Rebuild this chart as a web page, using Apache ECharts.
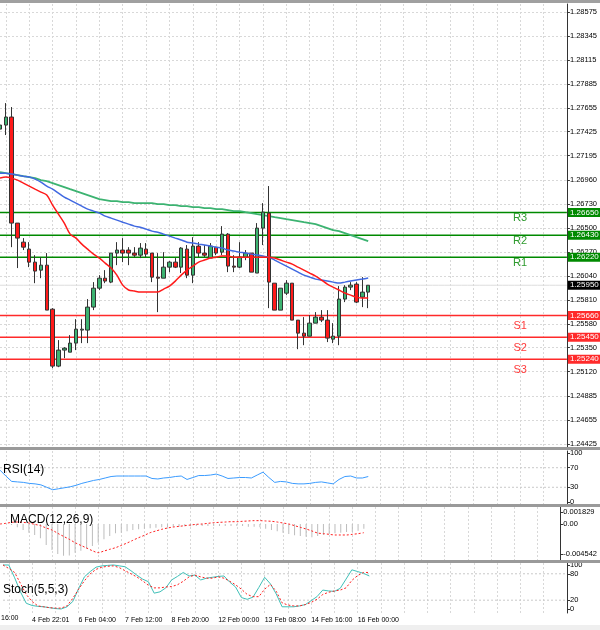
<!DOCTYPE html>
<html><head><meta charset="utf-8">
<script src="https://cdn.jsdelivr.net/npm/echarts@6/dist/echarts.min.js"></script>
<style>html,body{margin:0;padding:0;background:#fff}#c{width:600px;height:630px}</style>
</head><body><div id="c"></div>
<script>
const opens=[1.27450,1.27489,1.27566,1.26547,1.26364,1.26297,1.26172,1.26095,1.26143,1.25720,1.25173,1.25327,1.25307,1.25394,1.25519,1.25519,1.25740,1.25922,1.26018,1.25980,1.26259,1.26288,1.26288,1.26259,1.26239,1.26297,1.26259,1.26028,1.26018,1.26124,1.26172,1.26124,1.26297,1.26047,1.26326,1.26259,1.26211,1.26316,1.26268,1.26441,1.26134,1.26124,1.26220,1.26259,1.26067,1.26499,1.26643,1.25970,1.25711,1.25874,1.25970,1.25615,1.25490,1.25461,1.25586,1.25644,1.25615,1.25432,1.25461,1.25817,1.25932,1.25961,1.25836,1.25884];
const closes=[1.27489,1.27566,1.26547,1.26403,1.26316,1.26172,1.26086,1.26143,1.25711,1.25173,1.25327,1.25346,1.25394,1.25528,1.25528,1.25740,1.25922,1.26018,1.25990,1.26259,1.26288,1.26259,1.26259,1.26239,1.26307,1.26249,1.26028,1.26018,1.26124,1.26172,1.26124,1.26307,1.26047,1.26326,1.26259,1.26239,1.26326,1.26259,1.26441,1.26134,1.26124,1.26220,1.26259,1.26076,1.26499,1.26653,1.25980,1.25711,1.25922,1.25970,1.25615,1.25490,1.25461,1.25586,1.25644,1.25615,1.25442,1.25461,1.25817,1.25932,1.25951,1.25788,1.25884,1.25950];
const lows=[1.27431,1.27393,1.26316,1.26115,1.26288,1.26124,1.25970,1.26018,1.25711,1.25154,1.25163,1.25250,1.25307,1.25327,1.25394,1.25394,1.25711,1.25903,1.25970,1.25970,1.26143,1.26172,1.26143,1.26220,1.26211,1.26220,1.25980,1.25692,1.26018,1.26076,1.26115,1.26067,1.26018,1.25970,1.26220,1.26220,1.26211,1.26239,1.26239,1.26076,1.26076,1.26115,1.26191,1.26076,1.26067,1.26336,1.25730,1.25711,1.25711,1.25855,1.25615,1.25336,1.25374,1.25461,1.25586,1.25596,1.25404,1.25394,1.25374,1.25788,1.25903,1.25778,1.25740,1.25730];
const highs=[1.27518,1.27700,1.27662,1.26547,1.26403,1.26364,1.26239,1.26220,1.26259,1.25730,1.25423,1.25355,1.25471,1.25624,1.25624,1.25817,1.25980,1.26047,1.26095,1.26259,1.26364,1.26403,1.26316,1.26316,1.26355,1.26355,1.26259,1.26259,1.26268,1.26182,1.26211,1.26316,1.26336,1.26412,1.26364,1.26336,1.26355,1.26316,1.26518,1.26451,1.26239,1.26364,1.26288,1.26259,1.26547,1.26739,1.26903,1.25970,1.25922,1.25999,1.25970,1.25615,1.25644,1.25663,1.25692,1.25711,1.25711,1.25586,1.25942,1.25951,1.25980,1.25980,1.26028,1.25951];
const maFast=[1.26979,1.26989,1.26979,1.26960,1.26931,1.26902,1.26873,1.26845,1.26816,1.26720,1.26633,1.26547,1.26441,1.26403,1.26345,1.26297,1.26249,1.26211,1.26163,1.26115,1.26047,1.25951,1.25904,1.25894,1.25884,1.25884,1.25884,1.25884,1.25913,1.25942,1.25990,1.26047,1.26096,1.26134,1.26172,1.26192,1.26211,1.26220,1.26230,1.26230,1.26220,1.26220,1.26220,1.26220,1.26220,1.26220,1.26220,1.26211,1.26192,1.26172,1.26153,1.26124,1.26096,1.26067,1.26038,1.26000,1.25961,1.25932,1.25904,1.25875,1.25855,1.25836,1.25827,1.25827];
const maMid=[1.27027,1.27027,1.27018,1.27008,1.26998,1.26989,1.26970,1.26941,1.26902,1.26873,1.26835,1.26797,1.26768,1.26739,1.26710,1.26681,1.26662,1.26643,1.26614,1.26595,1.26576,1.26556,1.26537,1.26518,1.26508,1.26489,1.26470,1.26460,1.26441,1.26422,1.26403,1.26384,1.26364,1.26355,1.26345,1.26336,1.26326,1.26316,1.26307,1.26288,1.26278,1.26268,1.26259,1.26249,1.26240,1.26230,1.26220,1.26192,1.26163,1.26134,1.26105,1.26076,1.26047,1.26028,1.26009,1.26000,1.25990,1.25980,1.25971,1.25980,1.25990,1.26000,1.26009,1.26019];
const maSlow=[1.27037,1.27027,1.27018,1.27008,1.26998,1.26989,1.26979,1.26960,1.26950,1.26931,1.26912,1.26893,1.26873,1.26854,1.26835,1.26816,1.26797,1.26777,1.26768,1.26758,1.26758,1.26748,1.26748,1.26739,1.26739,1.26739,1.26739,1.26729,1.26729,1.26720,1.26720,1.26710,1.26710,1.26700,1.26700,1.26691,1.26691,1.26681,1.26681,1.26672,1.26662,1.26662,1.26652,1.26643,1.26633,1.26624,1.26614,1.26604,1.26595,1.26585,1.26576,1.26566,1.26556,1.26547,1.26537,1.26518,1.26499,1.26480,1.26470,1.26451,1.26432,1.26412,1.26393,1.26374];
const rsi=[65,53,42,41,40,38,37,35,30,25,27,29,31,34,38,41,44,46,49,52,53,53,53,53,53,53,48,47,49,50,52,53,46,50,54,54,55,57,53,48,49,50,50,49,55,61,50,40,42,41,38,37,37,38,40,41,39,37,46,52,53,49,49,52];
const macdHist=[0,0,-15,-51,-91,-132,-167,-218,-319,-395,-456,-482,-477,-436,-406,-375,-335,-284,-233,-183,-142,-132,-112,-91,-81,-71,-66,-56,-51,-46,-41,-41,-36,-36,-30,-30,-30,-30,-30,-30,-30,-30,-30,-41,-41,-51,-71,-91,-112,-132,-152,-172,-183,-193,-203,-183,-167,-152,-142,-132,-122,-117,-101,-71].map(v=>v/1e5);
const macdSignal=[0,10,25,30,25,15,-5,-25,-61,-91,-142,-188,-233,-284,-325,-365,-406,-436,-411,-385,-360,-325,-289,-248,-208,-172,-132,-106,-81,-61,-46,-36,-25,-15,-5,0,10,20,25,30,35,35,41,46,51,51,46,41,30,15,0,-25,-51,-76,-106,-137,-147,-157,-167,-167,-167,-157,-147,-132].map(v=>v/1e5);
const stochK=[100,100,71,39,13,8,6,5,3,1,0,5,17,46,73,85,95,98,99,100,98,96,87,77,68,62,36,39,48,66,74,83,75,77,66,70,72,74,75,61,50,26,22,27,49,72,57,34,5,5,5,7,10,19,28,43,41,40,47,68,89,85,81,75];
const stochD=[100,92,83,58,33,17,7,5,3,2,2,7,24,45,64,80,90,95,97,98,94,87,80,73,64,54,48,48,50,51,55,63,73,77,73,70,70,73,70,63,55,45,33,28,28,45,56,40,14,9,7,7,10,15,22,33,38,41,43,48,65,76,83,83];
const levelNames=['R3','R2','R1','S1','S2','S3'];
const levelValues=[1.26650,1.26430,1.26220,1.25660,1.25450,1.25240];
const lastPrice=1.25950;
const priceTicks=[1.28575,1.28345,1.28115,1.27885,1.27655,1.27425,1.27195,1.26960,1.26730,1.26500,1.26270,1.26040,1.25810,1.25580,1.25350,1.25120,1.24885,1.24655,1.24425];
const rsiTicks=[0,30,70,100];
const rsiLevels=[30,70];
const macdTicks=[-0.004542,0,0.001829];
const stochTicks=[0,20,80,100];
const stochLevels=[20,80];
const dateTickIdx=[5,13,21,29,37,45,53,61];
const dateLabels=['4 Feb 22:01','6 Feb 04:00','7 Feb 12:00','8 Feb 20:00','12 Feb 00:00','13 Feb 08:00','14 Feb 16:00','16 Feb 00:00'];
const NCAT=98;
const cats=Array.from({length:NCAT},(_,i)=>'c'+i);
const flat=v=>Array(NCAT).fill(v);

const GREEN='#008a00', RED='#ff2a2a';
const gridLine={show:true,interval:(i)=>(i-1)%4===0,lineStyle:{color:'#d8d8d8',type:[2,2],width:1}};
function xAx(gi,showLabel){return {type:'category',gridIndex:gi,data:cats,boundaryGap:false,
  axisLine:{show:false},axisTick:{show:false},splitLine:gridLine,
  axisLabel:{show:showLabel,interval:0,align:'left',margin:4,fontSize:7,color:'#000',fontFamily:'Liberation Sans',
    formatter:(v,i)=>{const k=dateTickIdx.indexOf(i);return k>=0?dateLabels[k]:'';}}};}
function yAx(gi,min,max,ticks,fmt,split){return {type:'value',gridIndex:gi,position:'right',min,max,scale:true,
  axisLine:{show:true,lineStyle:{color:'#333'}},
  axisTick:{show:true,customValues:ticks,length:3,lineStyle:{color:'#333'}},
  axisLabel:{customValues:ticks,fontSize:7.5,color:'#000',margin:3,fontFamily:'Liberation Sans',formatter:fmt},
  splitLine:{show:split,lineStyle:{color:'#d8d8d8',type:[2,2]}}};}

const tag=(c,t)=>({show:true,distance:1,formatter:t,backgroundColor:c,color:'#fff',padding:[1,2,0,2],fontSize:8,fontFamily:'Liberation Sans'});
const levelSeries=levelValues.map((v,i)=>{const c=i<3?GREEN:RED;const tc=i<3?'#2e9a2e':'#ff3b3b';return {type:'line',xAxisIndex:0,yAxisIndex:0,data:flat(v),symbol:'none',z:2,silent:true,
  lineStyle:{color:c,width:1.5},endLabel:tag(c,v.toFixed(5)),
  markPoint:{data:[{coord:[89,v],symbol:'circle',symbolSize:1,itemStyle:{color:'transparent'},
   label:{show:true,position:'inside',formatter:levelNames[i],color:tc,fontSize:11,fontFamily:'Liberation Sans',offset:[0,i<3?6:11]}}]}};});
const lastSeries={type:'line',xAxisIndex:0,yAxisIndex:0,data:flat(lastPrice),symbol:'none',z:1,silent:true,lineStyle:{color:'#dddddd',width:1},endLabel:tag('#000',lastPrice.toFixed(5))};
const dashLevels=(xi,vals)=>vals.map(v=>({type:'line',xAxisIndex:xi,yAxisIndex:xi,data:flat(v),symbol:'none',silent:true,z:1,lineStyle:{color:'#c8c8c8',type:[2,2],width:1}}));

const paneText=(t,x,y)=>({type:'text',left:x,top:y,style:{text:t,fontSize:12,fill:'#000',fontFamily:'Liberation Sans'},z:10});
const sep=(y)=>({type:'rect',shape:{x:0,y:y,width:600,height:3},style:{fill:'#9a9a9a'},z:5});

const opt={animation:false,backgroundColor:'#fff',
grid:[{left:-1,right:33,top:4,height:443},{left:-1,right:33,top:451,height:53},{left:-1,right:33,top:507,height:53},{left:-1,right:33,top:563,height:50}],
xAxis:[xAx(0,false),xAx(1,false),xAx(2,false),xAx(3,true)],
yAxis:[yAx(0,1.24396,1.28652,priceTicks,v=>v.toFixed(5),true),
  yAx(1,-4.1,104.1,rsiTicks,v=>String(v),false),
  yAx(2,-0.005472,0.002584,macdTicks,v=>v===0?'0.00':String(v),false),
  yAx(3,-9.1,104.5,stochTicks,v=>String(v),false)],
series:[
 lastSeries,...levelSeries,
 {type:'line',xAxisIndex:0,yAxisIndex:0,data:maSlow,symbol:'none',z:2,lineStyle:{color:'#3cb371',width:1.8}},
 {type:'candlestick',xAxisIndex:0,yAxisIndex:0,barWidth:4,z:3,
  data:opens.map((o,i)=>[o,closes[i],lows[i],highs[i]]),
  itemStyle:{color:'#3cb371',color0:'#ff1a1a',borderColor:'#333',borderColor0:'#333',borderWidth:1}},
 {type:'line',xAxisIndex:0,yAxisIndex:0,data:maMid,symbol:'none',smooth:0.3,z:4,lineStyle:{color:'#4169e1',width:1.5}},
 {type:'line',xAxisIndex:0,yAxisIndex:0,data:maFast,symbol:'none',smooth:0.3,z:4,lineStyle:{color:'#ff1a1a',width:1.5}},
 ...dashLevels(1,rsiLevels),
 {type:'line',xAxisIndex:1,yAxisIndex:1,data:rsi,symbol:'none',lineStyle:{color:'#3a9bff',width:1}},
 {type:'bar',xAxisIndex:2,yAxisIndex:2,data:macdHist,barWidth:1,itemStyle:{color:'#bdbdbd'}},
 {type:'line',xAxisIndex:2,yAxisIndex:2,data:macdSignal,symbol:'none',smooth:0.3,lineStyle:{color:'#ff2020',width:1,type:[2,2]}},
 ...dashLevels(3,stochLevels),
 {type:'line',xAxisIndex:3,yAxisIndex:3,data:stochK,symbol:'none',lineStyle:{color:'#40c0b8',width:1}},
 {type:'line',xAxisIndex:3,yAxisIndex:3,data:stochD,symbol:'none',lineStyle:{color:'#ff2020',width:1,type:[2,2]}}
],
graphic:[
 {type:'rect',shape:{x:0,y:0,width:600,height:3},style:{fill:'#a0a0a0'},z:5},
 sep(447),sep(504),sep(560),
 {type:'rect',shape:{x:0,y:625,width:600,height:5},style:{fill:'#efefef'},z:5},
 paneText('RSI(14)',3,464),paneText('MACD(12,26,9)',10,514),paneText('Stoch(5,5,3)',3,584),
 {type:'text',left:1,top:615,style:{text:'16:00',fontSize:7,fill:'#000',fontFamily:'Liberation Sans'}}
]};
echarts.init(document.getElementById('c')).setOption(opt);
</script></body></html>
